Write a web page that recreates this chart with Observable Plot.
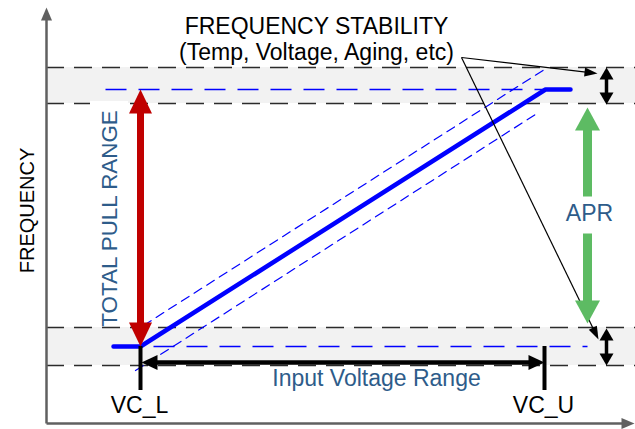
<!DOCTYPE html>
<html>
<head>
<meta charset="utf-8">
<script src="https://cdn.jsdelivr.net/npm/d3@7"></script>
<script src="https://cdn.jsdelivr.net/npm/@observablehq/plot@0.6"></script>
<style>
  html, body { margin: 0; padding: 0; background: #fff; }
  #chart svg { display: block; }
</style>
</head>
<body>
<div id="chart"></div>
<script>
// ---- Diagram data (voltage = horizontal units, frequency = vertical units) ----

// frequency stability bands (outer / inner limits)
const stabilityBands = [{top: 67, bottom: 103}, {top: 327, bottom: 365}];
const stabilityLimits = [67, 103, 327, 365];

// nominal min/max frequency (thin blue dashed)
const nominalLimits = [
  {f: 89, v1: 105, v2: 545},
  {f: 346, v1: 153, v2: 587}
];

// tuning curve
const tuningCurve = [
  {v: 113, f: 346}, {v: 140, f: 346}, {v: 545, f: 89}, {v: 570, f: 89}
];

// stability envelope around tuning curve
const envelopeUpper = [{v: 143, f: 325}, {v: 547, f: 67}];
const envelopeLower = [{v: 135, f: 370}, {v: 538, f: 112}];

// control voltage markers
const vcNames = ["VC_L", "VC_U"];
const vcValues = [140, 544];
const vcTickRange = [346, 390];

// arrows: from (v1,f1) to (v2,f2)
const arrowSpecs = [
  {id: "pull",  v1: 140, f1: 89,  v2: 140, f2: 346, color: "#C00000", w: 7,   len: 24, head: 23, both: true},
  {id: "aprT",  v1: 587, f1: 196, v2: 587, f2: 107, color: "#5DBB63", w: 9,   len: 23, head: 25, both: false},
  {id: "aprB",  v1: 587, f1: 233, v2: 587, f2: 323, color: "#5DBB63", w: 9,   len: 23, head: 25, both: false},
  {id: "stT",   v1: 606, f1: 67,  v2: 606, f2: 104, color: "#000000", w: 3.5, len: 12, head: 14, both: true},
  {id: "stB",   v1: 606, f1: 328, v2: 606, f2: 365, color: "#000000", w: 3.5, len: 12, head: 14, both: true},
  {id: "ivr",   v1: 141, f1: 362, v2: 544, f2: 362, color: "#000000", w: 4.5, len: 16, head: 15, both: true},
  {id: "calT",  v1: 461, f1: 57,  v2: 597, f2: 73,  color: "#000000", w: 1.2, len: 13, head: 9,  both: false},
  {id: "calB",  v1: 461, f1: 57,  v2: 598, f2: 339, color: "#000000", w: 1.2, len: 13, head: 9,  both: false},
  {id: "axX",   v1: 46,  f1: 423, v2: 634, f2: 423, color: "#606060", w: 2.5, len: 13, head: 11, both: false},
  {id: "axY",   v1: 46,  f1: 423, v2: 46,  f2: 7,   color: "#606060", w: 2.5, len: 13, head: 11, both: false}
];

// labels
const blackLabels = [
  {text: "FREQUENCY STABILITY", v: 316, f: 26},
  {text: "(Temp, Voltage, Aging, etc)", v: 316, f: 52.5},
  {text: "VC_L", v: 139, f: 405.5},
  {text: "VC_U", v: 543, f: 405.5}
];
const blueLabels = [
  {text: "Input Voltage Range", v: 376, f: 378.5},
  {text: "APR", v: 589, f: 213.5}
];
const rotatedLabels = [
  {text: "FREQUENCY", v: 26.6, f: 210, color: "#000000", size: 20},
  {text: "TOTAL PULL RANGE", v: 109, f: 218, color: "#2E5C8A", size: 22.4}
];
const labelMask = [{v1: 90, v2: 128, f1: 101, f2: 325}];

// ---- derive arrow shafts and heads ----
const shafts = [];
const heads = [];
for (const a of arrowSpecs) {
  const dx = a.v2 - a.v1, dy = a.f2 - a.f1;
  const L = Math.hypot(dx, dy);
  const ux = dx / L, uy = dy / L;
  const nx = -uy, ny = ux;
  const addHead = (tx, ty, sx, sy, key) => {
    const bx = tx - sx * a.len, by = ty - sy * a.len;
    heads.push({id: a.id + key, color: a.color, v: tx, f: ty});
    heads.push({id: a.id + key, color: a.color, v: bx + nx * a.head / 2, f: by + ny * a.head / 2});
    heads.push({id: a.id + key, color: a.color, v: bx - nx * a.head / 2, f: by - ny * a.head / 2});
  };
  addHead(a.v2, a.f2, ux, uy, "e");
  let sv1 = a.v1, sf1 = a.f1;
  if (a.both) {
    addHead(a.v1, a.f1, -ux, -uy, "s");
    sv1 = a.v1 + ux * a.len * 0.9; sf1 = a.f1 + uy * a.len * 0.9;
  }
  const sv2 = a.v2 - ux * a.len * 0.9, sf2 = a.f2 - uy * a.len * 0.9;
  shafts.push({id: a.id, color: a.color, w: a.w, v1: sv1, f1: sf1, v2: sv2, f2: sf2});
}

const font = "Liberation Sans, Arial, sans-serif";

const chart = Plot.plot({
  width: 635,
  height: 429,
  margin: 0,
  x: {domain: [0, 635], range: [0, 635], axis: null},
  y: {domain: [0, 429], range: [0, 429], axis: null},
  style: {fontFamily: font, background: "#ffffff"},
  marks: [
    Plot.rect(stabilityBands, {x1: 46, x2: 635, y1: "top", y2: "bottom", fill: "#F2F2F2"}),
    Plot.ruleY(stabilityLimits, {y: d => d, x1: 46, x2: 635, stroke: "#2b2b2b", strokeWidth: 1.4, strokeDasharray: "18,10"}),
    Plot.rect(labelMask, {x1: "v1", x2: "v2", y1: "f1", y2: "f2", fill: "#ffffff"}),
    Plot.link(nominalLimits, {x1: "v1", x2: "v2", y1: "f", y2: "f", stroke: "#0000FF", strokeWidth: 1.3, strokeDasharray: "21,12"}),
    Plot.line(envelopeUpper, {x: "v", y: "f", stroke: "#0000FF", strokeWidth: 1.2, strokeDasharray: "9,6"}),
    Plot.line(envelopeLower, {x: "v", y: "f", stroke: "#0000FF", strokeWidth: 1.2, strokeDasharray: "9,6"}),
    Plot.line(tuningCurve, {x: "v", y: "f", stroke: "#0000FF", strokeWidth: 4.5, strokeLinecap: "round", strokeLinejoin: "round"}),
    Plot.ruleX(vcValues, {x: d => d, y1: vcTickRange[0], y2: vcTickRange[1], stroke: "#000000", strokeWidth: 4}),
    Plot.link(shafts, {x1: "v1", y1: "f1", x2: "v2", y2: "f2", stroke: "color", strokeWidth: "w"}),
    Plot.line(heads, {x: "v", y: "f", z: "id", fill: "color", stroke: "none", curve: "linear-closed"}),
    Plot.text(blackLabels, {x: "v", y: "f", text: "text", fill: "#000000", fontSize: 23, textAnchor: "middle"}),
    Plot.text(blueLabels, {x: "v", y: "f", text: "text", fill: "#2E5C8A", fontSize: 23, textAnchor: "middle"}),
    Plot.text(rotatedLabels, {x: "v", y: "f", text: "text", fill: "color", fontSize: "size", rotate: -90, textAnchor: "middle"})
  ]
});
document.getElementById("chart").appendChild(chart);
</script>
</body>
</html>
